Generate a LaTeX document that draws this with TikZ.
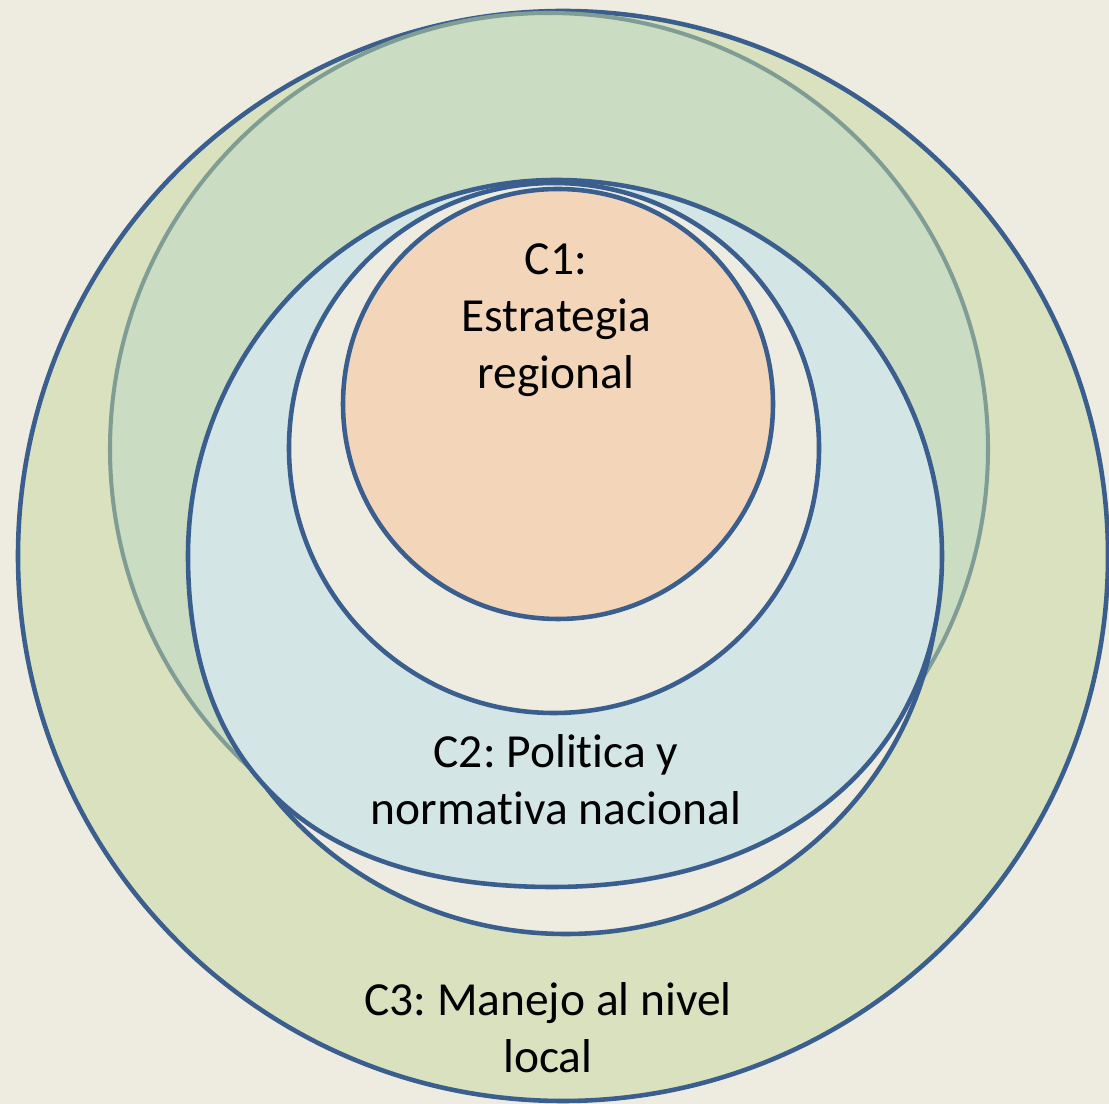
\documentclass[tikz,border=0pt]{standalone}
\usepackage{fontspec}
\setmainfont{Carlito}[Ligatures=NoCommon]
\definecolor{bgbeige}{HTML}{EEECE1}
\definecolor{ringblue}{HTML}{3A5F8E}
\definecolor{filllocal}{HTML}{D9E1BF}
\definecolor{fillgreen}{HTML}{CADCC1}
\definecolor{edgegreen}{HTML}{7F9D95}
\definecolor{fillnacion}{HTML}{D3E5E5}
\definecolor{fillregion}{HTML}{F3D6BA}
\begin{document}
\frenchspacing
\begin{tikzpicture}[x=0.01cm,y=-0.01cm,line cap=round,
	ring/.style={draw=ringblue,line width=1.3pt},
	lbl/.style={align=center,font=\fontsize{13.5}{16.2}\selectfont,text=black}]
	\useasboundingbox (0,0) rectangle (1109,1104);
	\fill[bgbeige] (0,0) rectangle (1109,1104);
	% C3 outer ring
	\draw[ring,fill=filllocal] (563,556) circle [radius=545];
	\draw[draw=edgegreen,line width=1.15pt,fill=fillgreen] (549,449) ellipse [x radius=439,y radius=436];
	% band under C2
	\draw[ring,fill=bgbeige] (566,572) ellipse [x radius=373,y radius=362];
	% C2, four quarters
	\draw[ring,fill=fillnacion] (556,180)
		.. controls (353,180) and (188,348) .. (188,556)
		.. controls (188,771) and (315,887) .. (552,887)
		.. controls (786,887) and (942,755) .. (942,556)
		.. controls (942,348) and (769,180) .. cycle;
	\draw[ring,fill=bgbeige] (554,448) circle [radius=265];
	\draw[ring,fill=fillregion] (558,404) circle [radius=215];
	% labels
	\node[lbl] (c1) at (556,320) {C1:\\Estrategia\\regional};
	\node[lbl] (c2) at (556,780) {C2: Politica y\\normativa nacional};
	\node[lbl] (c3) at (548,1028) {C3: Manejo al nivel\\local};
\end{tikzpicture}
\end{document}
